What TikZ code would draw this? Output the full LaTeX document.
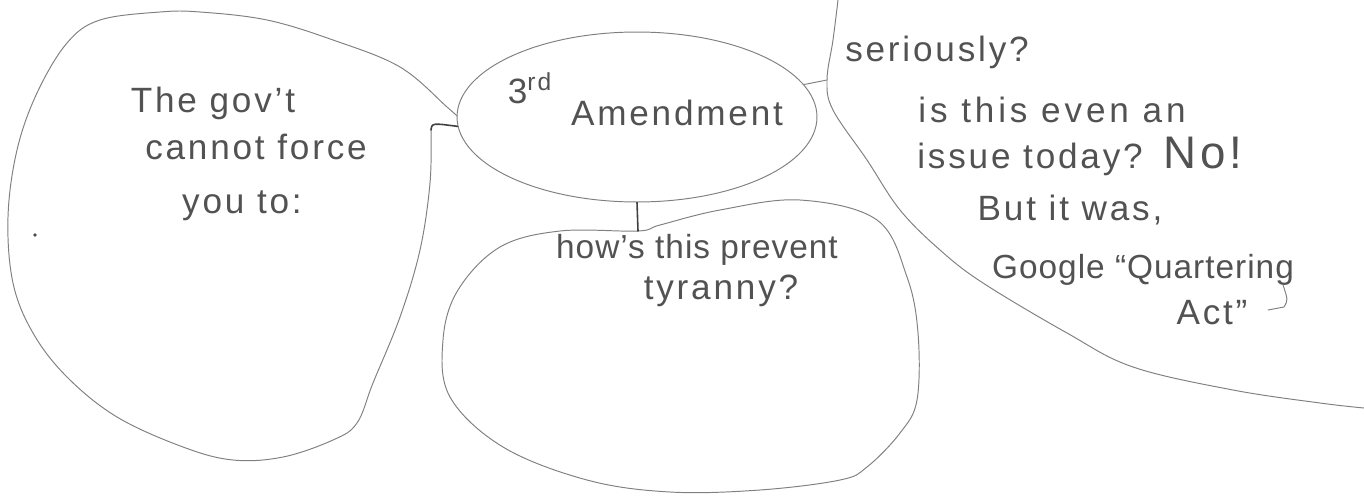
\documentclass[tikz,border=0pt]{standalone}
\usepackage{fontspec}
\setmainfont{Liberation Sans}
\usetikzlibrary{shapes.geometric}
\tikzset{
  ink/.style={draw=black!50, line width=0.55pt, line cap=round, line join=round},
  darkink/.style={draw=black!75, line width=0.9pt, line cap=round},
  hw/.style={text=black!68, inner sep=0pt, font=\fontsize{20}{24}\selectfont\addfontfeature{LetterSpace=8}},
  hwtight/.style={text=black!68, inner sep=0pt, font=\fontsize{19}{23}\selectfont\addfontfeature{LetterSpace=3}},
  bubble/.style={ink, shape=ellipse, inner sep=0pt}
}
\begin{document}
\begin{tikzpicture}[x=0.02cm, y=-0.02cm]
\useasboundingbox (0,0) rectangle (1364,497);

% central oval
\node[bubble, minimum width=7.2cm, minimum height=3.4cm] (amend) at (637,117) {};
\node[hw] (three) at (530,88) {3\textsuperscript{rd}};
\node[hw] (amendtxt) at (677,113) {Amendment};

% left blob
\coordinate (lhook) at (431,130);
\draw[ink] plot[smooth, tension=0.6] coordinates {(457,116) (447,107) (400,67) (333,40) (267,20) (200,12) (160,12) (100,20) (67,43) (37,93) (17,150) (8,217) (13,283) (33,333) (67,377) (117,417) (183,447) (233,460) (283,457) (333,440) (357,423) (373,383) (400,317) (420,250) (430,183) (431,130)};
\draw[darkink] (lhook) .. controls (432,123) .. (amend.183);
\fill[black!70] (35,235) circle (1.8);

\node[hw] (gov) at (213,103) {The gov't};
\node[hw] (force) at (256,147) {cannot force};
\node[hw] (youto) at (242,206) {you to:};

% bottom blob
\coordinate (btop) at (638,231);
\draw[ink] plot[smooth cycle, tension=0.6] coordinates {(638,231) (560,231) (500,247) (458,290) (443,340) (450,397) (503,447) (587,480) (670,492) (760,490) (840,480) (867,467) (900,433) (917,400) (918,333) (907,277) (877,220) (800,200) (720,210) (660,225)};
\draw[darkink] (amend.south) -- (btop);
\node[hwtight] (prevent) at (697,250) {how's this prevent};
\node[hw] (tyranny) at (721,291) {tyranny?};

% right region
\coordinate (rjoin) at (827,80);
\draw[ink] plot[smooth, tension=0.6] coordinates {(838,0) (833,40) (827,80) (833,110) (867,160) (900,210) (940,250) (983,283) (1067,333) (1133,367) (1233,390) (1320,403) (1364,408)};
\draw[ink] (amend.11) -- (rjoin);

\node[hw] (ser) at (937,52) {seriously?};
\node[hw, font=\fontsize{20}{24}\selectfont\addfontfeature{LetterSpace=11}] (even) at (1052,110) {is this even an};
\node[hw, anchor=base west] (issue) at (917,168) {issue today?\hspace{0.6em}{\fontsize{26}{30}\selectfont No!}};
\node[hw] (but) at (1070,210) {But it was,};
\node[hwtight] (google) at (1143,270) {Google ``Quartering};
\node[hw] (act) at (1212,313) {Act''};
\draw[ink] (1283,285) .. controls (1288,300) .. (1284,307) -- (1268,310);
\end{tikzpicture}
\end{document}
